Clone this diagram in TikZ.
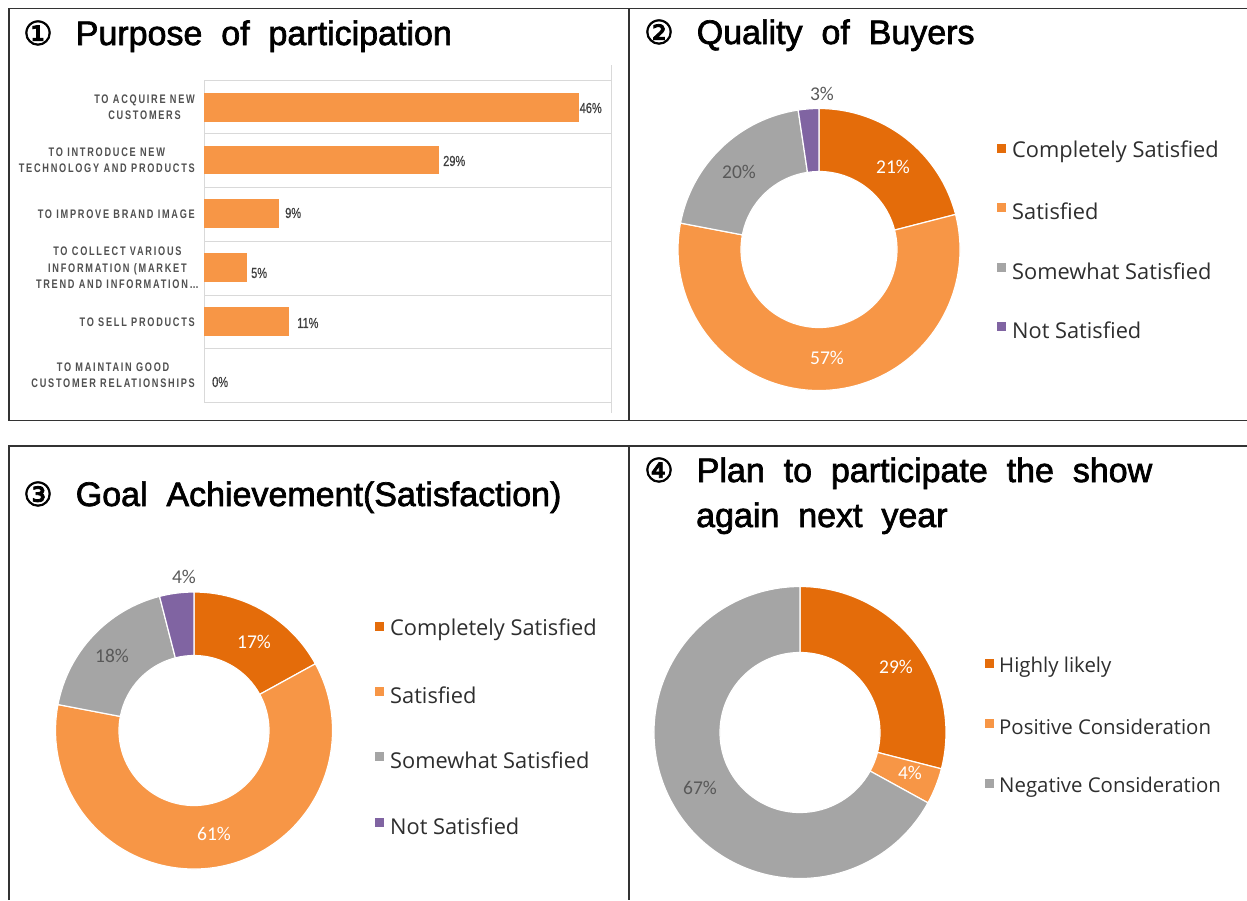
\documentclass[tikz,border=0pt]{standalone}
\usepackage{fontspec}
\setmainfont{Liberation Sans}
\newfontfamily\titlefont[FakeBold=2]{Liberation Sans}
\newfontfamily\circfont[FakeBold=2.5]{DejaVu Sans}
\newfontfamily\legfont{Open Sans}
\newfontfamily\pctfont{Carlito}
\newfontfamily\catfont[FakeStretch=0.74,LetterSpace=14]{Liberation Sans Bold}
\newfontfamily\barfont[FakeStretch=0.76,FakeBold=0.6]{Liberation Sans}
\definecolor{dorange}{HTML}{E46C0A}
\definecolor{lorange}{HTML}{F79646}
\definecolor{sgrey}{HTML}{A5A5A5}
\definecolor{spurple}{HTML}{8064A2}
\definecolor{catgrey}{HTML}{505050}
\definecolor{valgrey}{HTML}{404040}
\definecolor{gridgrey}{HTML}{D9D9D9}
\definecolor{legtext}{HTML}{2E2E2E}
\definecolor{lblgrey}{HTML}{595959}
\newcommand\ringseg[7]{%
  \begin{scope}[shift={(#1,#2)},yscale=-1]
    \fill[#7, draw=white, line width=1.2pt] (#5:#3) arc[start angle=#5, end angle=#6, radius=#3]
      -- (#6:#4) arc[start angle=#6, end angle=#5, radius=#4] -- cycle;
  \end{scope}}
\newcommand\circnum[1]{{\circfont\fontsize{33}{33}\selectfont #1}\hspace{23pt}}
\begin{document}
\begin{tikzpicture}[x=1pt,y=-1pt,
  frame/.style={draw=black!80, line width=1.3pt},
  ttl/.style={anchor=base west, inner sep=0, font=\titlefont\fontsize{34}{45}\selectfont},
  cat/.style={anchor=east, align=center, inner sep=0, text=catgrey, font=\catfont\fontsize{12.4}{16.5}\selectfont},
  barval/.style={anchor=west, inner sep=0, text=valgrey, font=\barfont\fontsize{14.5}{14.5}\selectfont},
  barbox/.style={fill=lorange},
  gridline/.style={draw=gridgrey, line width=0.8pt},
  pct/.style={inner sep=0, font=\pctfont\fontsize{19.5}{19.5}\selectfont},
  leg/.style={anchor=west, inner sep=0, text=legtext, font=\legfont\fontsize{21.8}{21.8}\selectfont},
  legsm/.style={leg, font=\legfont\fontsize{20.4}{20.4}\selectfont}]
\useasboundingbox (0,0) rectangle (1247,900);
\fill[white] (0,0) rectangle (1247,900);

% frames
\draw[frame] (9,420.5) -- (9,8.5) -- (1247,8.5);
\draw[frame] (9,420.5) -- (1247,420.5);
\draw[frame] (629,8.5) -- (629,420.5);
\draw[frame] (9,900) -- (9,446) -- (1247,446);
\draw[frame] (629,446) -- (629,900);

% titles
\node[ttl] (t1) at (23,45) {\circnum{①}Purpose\ \ of\ \ participation};
\node[ttl] (t2) at (644,44) {\circnum{②}Quality\ \ of\ \ Buyers};
\node[ttl] (t3) at (23,506) {\circnum{③}Goal\ \ Achievement(Satisfaction)};
\node[ttl] (t4) at (644,482) {\circnum{④}Plan\ \ to\ \ participate\ \ the\ \ show};
\node[ttl] (t4b) at (696,527) {again\ \ next\ \ year};

% ---- bar chart ----
\foreach \yy in {80,133.5,187,241,295,348.5,402}
  \draw[gridline] (204,\yy) -- (611,\yy);
\draw[gridline] (204,80) -- (204,402);
\draw[gridline] (611,65) -- (611,413);

\fill[barbox] (204,92.7) rectangle (578.5,121.7);
\fill[barbox] (204,145.7) rectangle (439,174.3);
\fill[barbox] (204,199.3) rectangle (279,228.3);
\fill[barbox] (204,253.3) rectangle (246.7,282);
\fill[barbox] (204,307.3) rectangle (289,336.3);

\node[barval] (v1) at (579.5,108) {46\%};
\node[barval] (v2) at (443,161) {29\%};
\node[barval] (v3) at (285,213) {9\%};
\node[barval] (v4) at (251,273) {5\%};
\node[barval] (v5) at (297,323) {11\%};
\node[barval] (v6) at (212,382) {0\%};

\node[cat] (c1) at (195,107) {TO ACQUIRE NEW\\CUSTOMERS};
\node[cat] (c2) at (195,160) {TO INTRODUCE NEW\\TECHNOLOGY AND PRODUCTS};
\node[cat] (c3) at (195,214) {TO IMPROVE BRAND IMAGE};
\node[cat] (c4) at (199,268) {TO COLLECT VARIOUS\\INFORMATION (MARKET\\TREND AND INFORMATION…};
\node[cat] (c5) at (195,322) {TO SELL PRODUCTS};
\node[cat] (c6) at (195,375) {TO MAINTAIN GOOD\\CUSTOMER RELATIONSHIPS};

% ---- donut 2 ----
\ringseg{819}{249.5}{141}{78}{90}{14.4}{dorange}
\ringseg{819}{249.5}{141}{78}{14.4}{-190.8}{lorange}
\ringseg{819}{249.5}{141}{78}{-190.8}{-261.5}{sgrey}
\ringseg{819}{249.5}{141}{78}{-261.5}{-270}{spurple}
\node[pct, text=white] (d2a) at (893,167) {21\%};
\node[pct, text=white] (d2b) at (827,358) {57\%};
\node[pct, text=lblgrey] (d2c) at (739,172) {20\%};
\node[pct, text=lblgrey] (d2d) at (822,94) {3\%};
\fill[dorange] (997,144) rectangle (1006,152.5);
\node[leg] (l2a) at (1012,152) {Completely Satisfied};
\fill[lorange] (997,203) rectangle (1006,211.5);
\node[leg] (l2b) at (1012,211) {Satisfied};
\fill[sgrey] (997,263) rectangle (1006,271.5);
\node[leg] (l2c) at (1012,271) {Somewhat Satisfied};
\fill[spurple] (997,322) rectangle (1006,330.5);
\node[leg] (l2d) at (1012,330) {Not Satisfied};

% ---- donut 3 ----
\ringseg{194}{730.5}{138.5}{75}{90}{28.8}{dorange}
\ringseg{194}{730.5}{138.5}{75}{28.8}{-190.8}{lorange}
\ringseg{194}{730.5}{138.5}{75}{-190.8}{-255.6}{sgrey}
\ringseg{194}{730.5}{138.5}{75}{-255.6}{-270}{spurple}
\node[pct, text=white] (d3a) at (254,642) {17\%};
\node[pct, text=white] (d3b) at (214,834) {61\%};
\node[pct, text=lblgrey] (d3c) at (112,656) {18\%};
\node[pct, text=lblgrey] (d3d) at (184,577) {4\%};
\fill[dorange] (375,622) rectangle (384,630.5);
\node[leg] (l3a) at (390,630) {Completely Satisfied};
\fill[lorange] (375,687) rectangle (384,695.5);
\node[leg] (l3b) at (390,695) {Satisfied};
\fill[sgrey] (375,752) rectangle (384,760.5);
\node[leg] (l3c) at (390,760) {Somewhat Satisfied};
\fill[spurple] (375,818) rectangle (384,826.5);
\node[leg] (l3d) at (390,826) {Not Satisfied};

% ---- donut 4 ----
\ringseg{800}{732.5}{146}{80}{90}{-14.4}{dorange}
\ringseg{800}{732.5}{146}{80}{-14.4}{-28.8}{lorange}
\ringseg{800}{732.5}{146}{80}{-28.8}{-270}{sgrey}
\node[pct, text=white] (d4a) at (896,667) {29\%};
\node[pct, text=white] (d4b) at (910,773) {4\%};
\node[pct, text=lblgrey] (d4c) at (700,788) {67\%};
\fill[dorange] (985,659) rectangle (994,667.5);
\node[legsm] (l4a) at (999,667) {Highly likely};
\fill[lorange] (985,719) rectangle (994,727.5);
\node[legsm] (l4b) at (999,727) {Positive Consideration};
\fill[sgrey] (985,779) rectangle (994,787.5);
\node[legsm] (l4c) at (999,787) {Negative Consideration};
\end{tikzpicture}
\end{document}
